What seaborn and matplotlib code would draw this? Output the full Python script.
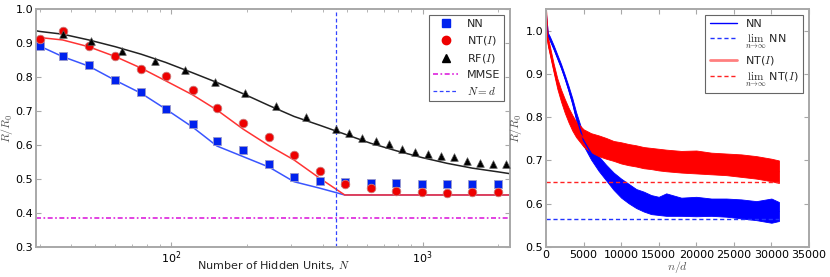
import numpy as np
import pandas as pd
import matplotlib
matplotlib.use("Agg")
import matplotlib.pyplot as plt
import seaborn as sns
from matplotlib.lines import Line2D

# ---------------- data: left panel ----------------
N_grid = [30, 37, 47, 60, 76, 95, 122, 152, 193, 245, 308, 390, 490, 622, 786, 995, 1253, 1574, 1995]
nn_pts = [0.890, 0.863, 0.834, 0.792, 0.756, 0.706, 0.661, 0.612, 0.584, 0.545, 0.506, 0.494,
          0.491, 0.488, 0.487, 0.486, 0.486, 0.486, 0.486]
nt_pts = [0.913, 0.934, 0.890, 0.862, 0.823, 0.802, 0.762, 0.710, 0.665, 0.624, 0.571, 0.524,
          0.485, 0.473, 0.466, 0.461, 0.459, 0.461, 0.463]
N_rf = [37, 48, 64, 86, 113, 149, 196, 261, 344, 452, 511, 575, 650, 733, 826, 931, 1050,
        1183, 1333, 1500, 1694, 1905, 2143]
rf_pts = [0.926, 0.906, 0.877, 0.848, 0.821, 0.786, 0.754, 0.716, 0.681, 0.646, 0.634, 0.621,
          0.612, 0.602, 0.588, 0.580, 0.573, 0.568, 0.564, 0.553, 0.546, 0.545, 0.543]

N_theory = [29, 30, 37, 47, 60, 76, 95, 122, 152, 193, 245, 308, 390, 490, 622, 786, 995, 1253, 1574, 1995, 2300]
nn_theory = [0.894, 0.891, 0.860, 0.832, 0.790, 0.752, 0.706, 0.652, 0.597, 0.566, 0.535, 0.492,
             0.473, 0.453, 0.453, 0.453, 0.453, 0.453, 0.453, 0.453, 0.453]
nt_theory = [0.918, 0.916, 0.909, 0.889, 0.860, 0.826, 0.789, 0.747, 0.703, 0.647, 0.598, 0.556,
             0.502, 0.453, 0.453, 0.453, 0.453, 0.453, 0.453, 0.453, 0.453]
rf_theory = [0.936, 0.934, 0.926, 0.909, 0.889, 0.867, 0.843, 0.812, 0.784, 0.751, 0.716, 0.684,
             0.658, 0.632, 0.605, 0.583, 0.563, 0.546, 0.532, 0.521, 0.514]
mmse = 0.386
d_value = 452

# ---------------- data: right panel ----------------
n_over_d = [0, 250, 500, 1000, 1500, 2000, 2500, 3000, 3500, 4000, 5000, 6000, 7000, 8000,
            9000, 10000, 11000, 12000, 13000, 14000, 15000, 16000, 18000, 20000, 22000,
            24000, 26000, 28000, 30000, 31000]
nn_upper = [1.040, 0.995, 0.987, 0.967, 0.945, 0.923, 0.898, 0.872, 0.844, 0.812, 0.758, 0.732,
            0.710, 0.690, 0.672, 0.658, 0.646, 0.634, 0.628, 0.620, 0.616, 0.624, 0.614, 0.616,
            0.612, 0.612, 0.610, 0.606, 0.612, 0.604]
nn_lower = [1.000, 0.985, 0.977, 0.957, 0.935, 0.913, 0.888, 0.860, 0.830, 0.794, 0.734, 0.702,
            0.676, 0.654, 0.632, 0.614, 0.601, 0.590, 0.582, 0.576, 0.574, 0.572, 0.572, 0.571,
            0.572, 0.570, 0.566, 0.562, 0.556, 0.560]
nt_upper = [1.050, 0.985, 0.965, 0.925, 0.890, 0.864, 0.842, 0.822, 0.805, 0.790, 0.772, 0.763,
            0.758, 0.752, 0.745, 0.742, 0.738, 0.735, 0.731, 0.729, 0.727, 0.725, 0.722, 0.723,
            0.718, 0.716, 0.714, 0.710, 0.704, 0.700]
nt_lower = [1.000, 0.965, 0.945, 0.905, 0.866, 0.836, 0.810, 0.788, 0.769, 0.754, 0.732, 0.719,
            0.710, 0.704, 0.699, 0.693, 0.689, 0.686, 0.682, 0.680, 0.677, 0.675, 0.672, 0.670,
            0.668, 0.666, 0.662, 0.658, 0.652, 0.648]
nn_limit = 0.564
nt_limit = 0.650

# ---------------- style ----------------
sns.set_style("ticks")
plt.rcParams.update({
    "font.family": ["DejaVu Sans"],
    "mathtext.fontset": "cm",
    "font.size": 8,
    "axes.edgecolor": "#a8a8a8",
    "axes.linewidth": 1.4,
    "xtick.direction": "in",
    "ytick.direction": "in",
    "xtick.top": True,
    "ytick.right": True,
    "xtick.color": "#a8a8a8",
    "ytick.color": "#a8a8a8",
    "xtick.labelcolor": "black",
    "ytick.labelcolor": "black",
    "xtick.labelsize": 8,
    "ytick.labelsize": 8,
    "xtick.major.pad": 2,
    "ytick.major.pad": 2,
    "legend.fontsize": 8,
})

fig = plt.figure(figsize=(8.3, 2.77), dpi=100)
ax1 = fig.add_axes([36 / 830, 1 - 247 / 277, (510 - 36) / 830, (247 - 9) / 277])
ax2 = fig.add_axes([546 / 830, 1 - 247 / 277, (809 - 546) / 830, (247 - 9) / 277])

# ---------------- left panel ----------------
theory = pd.DataFrame({"N": N_theory, "NN": nn_theory, "NT": nt_theory, "RF": rf_theory})
sns.lineplot(data=theory, x="N", y="NN", ax=ax1, color="#3a55ff", lw=1.1, sort=False, estimator=None)
sns.lineplot(data=theory, x="N", y="NT", ax=ax1, color="#ff3333", lw=1.1, sort=False, estimator=None)
sns.lineplot(data=theory, x="N", y="RF", ax=ax1, color="#222222", lw=1.1, sort=False, estimator=None)

pts = pd.DataFrame({"N": N_grid, "NN": nn_pts, "NT": nt_pts})
rf = pd.DataFrame({"N": N_rf, "RF": rf_pts})
sns.scatterplot(data=pts, x="N", y="NN", ax=ax1, marker="s", s=36, color="#0022ee",
                edgecolor="#9999cc", linewidth=0.6, zorder=5)
sns.scatterplot(data=pts, x="N", y="NT", ax=ax1, marker="o", s=38, color="#ee0000",
                edgecolor="#cc7777", linewidth=0.6, zorder=5)
sns.scatterplot(data=rf, x="N", y="RF", ax=ax1, marker="^", s=30, color="black",
                edgecolor="#555555", linewidth=0.5, zorder=5)

ax1.axhline(mmse, color="#dd22dd", lw=1.2, ls=(0, (3, 1.5, 1, 1.5)))
ax1.axvline(d_value, color="#3344ff", lw=0.9, ls=(0, (3, 2)))

ax1.set_xscale("log")
ax1.set_xlim(29, 2225)
ax1.set_ylim(0.3, 1.0)
ax1.set_yticks([0.3, 0.4, 0.5, 0.6, 0.7, 0.8, 0.9, 1.0])
ax1.set_xlabel("Number of Hidden Units, $N$", fontsize=8)
ax1.set_ylabel("$R/R_0$", fontsize=8.5, color="#555555")
ax1.xaxis.set_label_coords(0.5, -0.052)
ax1.yaxis.set_label_coords(-0.044, 0.5)

h1 = [
    Line2D([], [], ls="none", marker="s", color="#0022ee", ms=6),
    Line2D([], [], ls="none", marker="o", color="#ee0000", ms=6),
    Line2D([], [], ls="none", marker="^", color="black", ms=5.5),
    Line2D([], [], color="#dd22dd", lw=1.2, ls=(0, (3, 1.5, 1, 1.5))),
    Line2D([], [], color="#3344ff", lw=0.9, ls=(0, (3, 2))),
]
leg1 = ax1.legend(h1, ["NN", "NT($I$)", "RF($I$)", "MMSE", "$N=d$"], loc="upper right",
                  fancybox=False, framealpha=1, edgecolor="#666666", handlelength=2.2,
                  borderaxespad=0.5, labelspacing=0.45, handletextpad=0.8)
leg1.get_frame().set_linewidth(0.8)

# ---------------- right panel ----------------
band = pd.DataFrame({"x": n_over_d, "nn_lo": nn_lower, "nn_hi": nn_upper,
                     "nt_lo": nt_lower, "nt_hi": nt_upper})
band["nn_mid"] = (band["nn_lo"] + band["nn_hi"]) / 2
band["nt_mid"] = (band["nt_lo"] + band["nt_hi"]) / 2
ax2.fill_between(band["x"], band["nn_lo"], band["nn_hi"], color="#0000ff", lw=0.6, edgecolor="#0000ff")
sns.lineplot(data=band, x="x", y="nn_mid", ax=ax2, color="#0000ff", lw=1.0, sort=False, estimator=None)
ax2.fill_between(band["x"], band["nt_lo"], band["nt_hi"], color="#ff0000", lw=0.6, edgecolor="#ff0000")
sns.lineplot(data=band, x="x", y="nt_mid", ax=ax2, color="#ff0000", lw=1.0, sort=False, estimator=None)

xmax = n_over_d[-1]
ax2.plot([0, xmax], [nn_limit, nn_limit], color="#2233ff", lw=1.0, ls=(0, (3, 2)))
ax2.plot([0, xmax], [nt_limit, nt_limit], color="#ff2222", lw=1.0, ls=(0, (3, 2)))

ax2.set_xlim(0, 35000)
ax2.set_ylim(0.5, 1.05)
ax2.set_xticks([0, 5000, 10000, 15000, 20000, 25000, 30000, 35000])
ax2.set_yticks([0.5, 0.6, 0.7, 0.8, 0.9, 1.0])
ax2.set_xlabel("$n/d$", fontsize=8.5, color="#555555")
ax2.set_ylabel("$R/R_0$", fontsize=8.5, color="#555555")
ax2.xaxis.set_label_coords(0.5, -0.052)
ax2.yaxis.set_label_coords(-0.085, 0.5)

h2 = [
    Line2D([], [], color="#0000ff", lw=1.0),
    Line2D([], [], color="#2233ff", lw=1.0, ls=(0, (3, 2))),
    Line2D([], [], color="#ff0000", lw=2.0, alpha=0.5),
    Line2D([], [], color="#ff2222", lw=1.0, ls=(0, (3, 2))),
]
leg2 = ax2.legend(h2, ["NN", r"$\lim_{n\to\infty}$ NN", "NT($I$)", r"$\lim_{n\to\infty}$ NT($I$)"],
                  loc="upper right", fancybox=False, framealpha=1, edgecolor="#666666",
                  handlelength=2.4, borderaxespad=0.5, labelspacing=0.3, handletextpad=0.8)
leg2.get_frame().set_linewidth(0.8)

fig.savefig("out.png", dpi=100)
